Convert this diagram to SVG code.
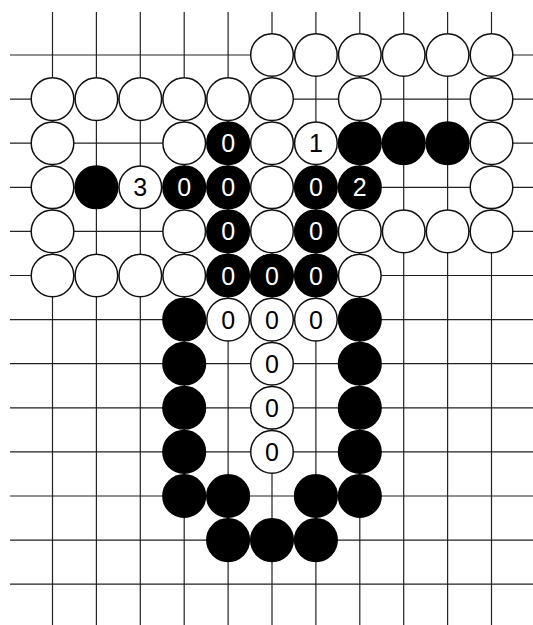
<svg xmlns="http://www.w3.org/2000/svg" width="533" height="625" viewBox="0 0 533 625">
<style>
.g{stroke:#222;stroke-width:1.2;fill:none}
.w{fill:#fff;stroke:#111;stroke-width:1.5}
.b{fill:#000;stroke:#000;stroke-width:1.5}
.tw{font-family:"Liberation Sans",Arial,sans-serif;font-size:25px;fill:#000;text-anchor:middle}
.tb{font-family:"Liberation Sans",Arial,sans-serif;font-size:25px;fill:#fff;text-anchor:middle}
</style>
<rect width="533" height="625" fill="#fff"/>
<g id="grid" class="g">
<path d="M52.5 12V625M96.4 12V625M140.3 12V625M184.2 12V625M228.1 12V625M272 12V625M315.9 12V625M359.8 12V625M403.7 12V625M447.6 12V625M491.5 12V625"/>
<path d="M10 55H533M10 99.1H533M10 143.2H533M10 187.3H533M10 231.4H533M10 275.5H533M10 319.6H533M10 363.7H533M10 407.8H533M10 451.9H533M10 496H533M10 540.1H533M10 584.2H533"/>
</g>
<g id="stones">
<!-- row 0 -->
<g id="w-5-0"><circle class="w" cx="272" cy="55" r="21.3"/></g>
<g id="w-6-0"><circle class="w" cx="315.9" cy="55" r="21.3"/></g>
<g id="w-7-0"><circle class="w" cx="359.8" cy="55" r="21.3"/></g>
<g id="w-8-0"><circle class="w" cx="403.7" cy="55" r="21.3"/></g>
<g id="w-9-0"><circle class="w" cx="447.6" cy="55" r="21.3"/></g>
<g id="w-10-0"><circle class="w" cx="491.5" cy="55" r="21.3"/></g>
<!-- row 1 -->
<g id="w-0-1"><circle class="w" cx="52.5" cy="99.1" r="21.3"/></g>
<g id="w-1-1"><circle class="w" cx="96.4" cy="99.1" r="21.3"/></g>
<g id="w-2-1"><circle class="w" cx="140.3" cy="99.1" r="21.3"/></g>
<g id="w-3-1"><circle class="w" cx="184.2" cy="99.1" r="21.3"/></g>
<g id="w-4-1"><circle class="w" cx="228.1" cy="99.1" r="21.3"/></g>
<g id="w-5-1"><circle class="w" cx="272" cy="99.1" r="21.3"/></g>
<g id="w-7-1"><circle class="w" cx="359.8" cy="99.1" r="21.3"/></g>
<g id="w-10-1"><circle class="w" cx="491.5" cy="99.1" r="21.3"/></g>
<!-- row 2 -->
<g id="w-0-2"><circle class="w" cx="52.5" cy="143.2" r="21.3"/></g>
<g id="w-3-2"><circle class="w" cx="184.2" cy="143.2" r="21.3"/></g>
<g id="b-4-2"><circle class="b" cx="228.1" cy="143.2" r="21.3"/><text class="tb" x="228.1" y="152.2">0</text></g>
<g id="w-5-2"><circle class="w" cx="272" cy="143.2" r="21.3"/></g>
<g id="w-6-2"><circle class="w" cx="315.9" cy="143.2" r="21.3"/><text class="tw" x="315.9" y="152.2">1</text></g>
<g id="b-7-2"><circle class="b" cx="359.8" cy="143.2" r="21.3"/></g>
<g id="b-8-2"><circle class="b" cx="403.7" cy="143.2" r="21.3"/></g>
<g id="b-9-2"><circle class="b" cx="447.6" cy="143.2" r="21.3"/></g>
<g id="w-10-2"><circle class="w" cx="491.5" cy="143.2" r="21.3"/></g>
<!-- row 3 -->
<g id="w-0-3"><circle class="w" cx="52.5" cy="187.3" r="21.3"/></g>
<g id="b-1-3"><circle class="b" cx="96.4" cy="187.3" r="21.3"/></g>
<g id="w-2-3"><circle class="w" cx="140.3" cy="187.3" r="21.3"/><text class="tw" x="140.3" y="196.3">3</text></g>
<g id="b-3-3"><circle class="b" cx="184.2" cy="187.3" r="21.3"/><text class="tb" x="184.2" y="196.3">0</text></g>
<g id="b-4-3"><circle class="b" cx="228.1" cy="187.3" r="21.3"/><text class="tb" x="228.1" y="196.3">0</text></g>
<g id="w-5-3"><circle class="w" cx="272" cy="187.3" r="21.3"/></g>
<g id="b-6-3"><circle class="b" cx="315.9" cy="187.3" r="21.3"/><text class="tb" x="315.9" y="196.3">0</text></g>
<g id="b-7-3"><circle class="b" cx="359.8" cy="187.3" r="21.3"/><text class="tb" x="359.8" y="196.3">2</text></g>
<g id="w-10-3"><circle class="w" cx="491.5" cy="187.3" r="21.3"/></g>
<!-- row 4 -->
<g id="w-0-4"><circle class="w" cx="52.5" cy="231.4" r="21.3"/></g>
<g id="w-3-4"><circle class="w" cx="184.2" cy="231.4" r="21.3"/></g>
<g id="b-4-4"><circle class="b" cx="228.1" cy="231.4" r="21.3"/><text class="tb" x="228.1" y="240.4">0</text></g>
<g id="w-5-4"><circle class="w" cx="272" cy="231.4" r="21.3"/></g>
<g id="b-6-4"><circle class="b" cx="315.9" cy="231.4" r="21.3"/><text class="tb" x="315.9" y="240.4">0</text></g>
<g id="w-7-4"><circle class="w" cx="359.8" cy="231.4" r="21.3"/></g>
<g id="w-8-4"><circle class="w" cx="403.7" cy="231.4" r="21.3"/></g>
<g id="w-9-4"><circle class="w" cx="447.6" cy="231.4" r="21.3"/></g>
<g id="w-10-4"><circle class="w" cx="491.5" cy="231.4" r="21.3"/></g>
<!-- row 5 -->
<g id="w-0-5"><circle class="w" cx="52.5" cy="275.5" r="21.3"/></g>
<g id="w-1-5"><circle class="w" cx="96.4" cy="275.5" r="21.3"/></g>
<g id="w-2-5"><circle class="w" cx="140.3" cy="275.5" r="21.3"/></g>
<g id="w-3-5"><circle class="w" cx="184.2" cy="275.5" r="21.3"/></g>
<g id="b-4-5"><circle class="b" cx="228.1" cy="275.5" r="21.3"/><text class="tb" x="228.1" y="284.5">0</text></g>
<g id="b-5-5"><circle class="b" cx="272" cy="275.5" r="21.3"/><text class="tb" x="272" y="284.5">0</text></g>
<g id="b-6-5"><circle class="b" cx="315.9" cy="275.5" r="21.3"/><text class="tb" x="315.9" y="284.5">0</text></g>
<g id="w-7-5"><circle class="w" cx="359.8" cy="275.5" r="21.3"/></g>
<!-- row 6 -->
<g id="b-3-6"><circle class="b" cx="184.2" cy="319.6" r="21.3"/></g>
<g id="w-4-6"><circle class="w" cx="228.1" cy="319.6" r="21.3"/><text class="tw" x="228.1" y="328.6">0</text></g>
<g id="w-5-6"><circle class="w" cx="272" cy="319.6" r="21.3"/><text class="tw" x="272" y="328.6">0</text></g>
<g id="w-6-6"><circle class="w" cx="315.9" cy="319.6" r="21.3"/><text class="tw" x="315.9" y="328.6">0</text></g>
<g id="b-7-6"><circle class="b" cx="359.8" cy="319.6" r="21.3"/></g>
<!-- row 7 -->
<g id="b-3-7"><circle class="b" cx="184.2" cy="363.7" r="21.3"/></g>
<g id="w-5-7"><circle class="w" cx="272" cy="363.7" r="21.3"/><text class="tw" x="272" y="372.7">0</text></g>
<g id="b-7-7"><circle class="b" cx="359.8" cy="363.7" r="21.3"/></g>
<!-- row 8 -->
<g id="b-3-8"><circle class="b" cx="184.2" cy="407.8" r="21.3"/></g>
<g id="w-5-8"><circle class="w" cx="272" cy="407.8" r="21.3"/><text class="tw" x="272" y="416.8">0</text></g>
<g id="b-7-8"><circle class="b" cx="359.8" cy="407.8" r="21.3"/></g>
<!-- row 9 -->
<g id="b-3-9"><circle class="b" cx="184.2" cy="451.9" r="21.3"/></g>
<g id="w-5-9"><circle class="w" cx="272" cy="451.9" r="21.3"/><text class="tw" x="272" y="460.9">0</text></g>
<g id="b-7-9"><circle class="b" cx="359.8" cy="451.9" r="21.3"/></g>
<!-- row 10 -->
<g id="b-3-10"><circle class="b" cx="184.2" cy="496" r="21.3"/></g>
<g id="b-4-10"><circle class="b" cx="228.1" cy="496" r="21.3"/></g>
<g id="b-6-10"><circle class="b" cx="315.9" cy="496" r="21.3"/></g>
<g id="b-7-10"><circle class="b" cx="359.8" cy="496" r="21.3"/></g>
<!-- row 11 -->
<g id="b-4-11"><circle class="b" cx="228.1" cy="540.1" r="21.3"/></g>
<g id="b-5-11"><circle class="b" cx="272" cy="540.1" r="21.3"/></g>
<g id="b-6-11"><circle class="b" cx="315.9" cy="540.1" r="21.3"/></g>
</g>
</svg>
